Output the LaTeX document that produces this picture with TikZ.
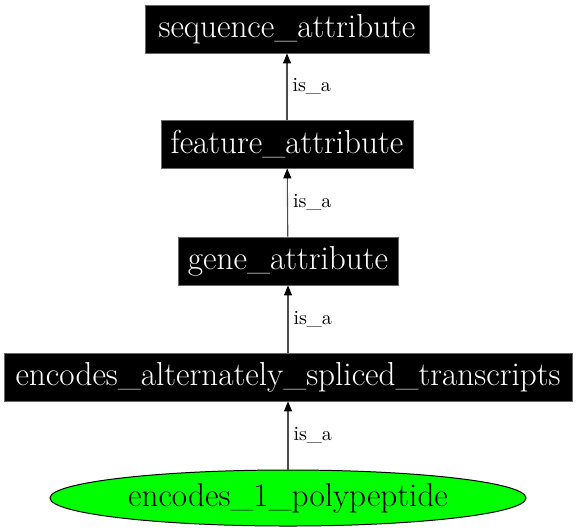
\documentclass[tikz,border=0pt]{standalone}
\usetikzlibrary{arrows.meta, shapes.geometric}

\begin{document}
\begin{tikzpicture}[x=0.5pt, y=-0.5pt, >={Triangle[length=5pt, width=4pt, color=black]},
    attr/.style={draw=black!60, fill=black, text=white, inner sep=0pt,
        minimum height=24pt, font=\fontsize{16.6}{19}\selectfont},
    leaf/.style={ellipse, draw=black, line width=0.5pt, fill=green, inner sep=0pt,
        minimum width=238pt, minimum height=28pt, font=\fontsize{16.6}{19}\selectfont},
    isa/.style={->, draw=black!70, line width=0.55pt},
    lbl/.style={right, inner sep=2.5pt, font=\fontsize{10}{12}\selectfont}]
    \useasboundingbox (0,0) rectangle (576,531);
    % Knoten
    \node[attr, minimum width=142pt] (seq) at (287,29) {sequence\_attribute};
    \node[attr, minimum width=126pt] (feat) at (287,144) {feature\_attribute};
    \node[attr, minimum width=110pt] (gene) at (288,261) {gene\_attribute};
    \node[attr, minimum width=284pt] (alt) at (288,377) {encodes\_alternately\_spliced\_transcripts};
    \node[leaf] (poly) at (288,498) {encodes\_1\_polypeptide};
    % Kanten
    \draw[isa] (feat) -- node[lbl] {is\_a} (seq);
    \draw[isa] (gene) -- node[lbl] {is\_a} (feat);
    \draw[isa] (alt) -- node[lbl] {is\_a} (gene);
    \draw[isa] (poly) -- node[lbl] {is\_a} (alt);
\end{tikzpicture}
\end{document}
